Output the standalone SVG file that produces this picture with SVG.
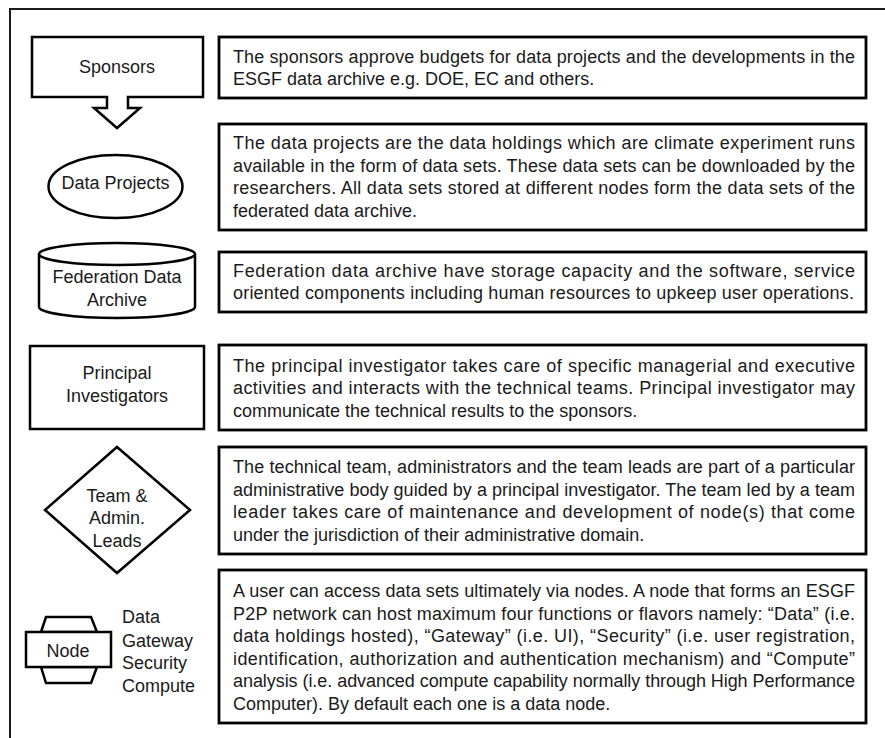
<svg xmlns="http://www.w3.org/2000/svg" width="885" height="738" viewBox="0 0 885 738">
<style>
  .shape { fill: #ffffff; stroke: #000000; stroke-width: 2.5; stroke-linejoin: miter; }
  .box { fill: #ffffff; stroke: #000000; stroke-width: 2.8; }
  .frame { fill: none; stroke: #1a1a1a; stroke-width: 2; }
  .lbl { font-family: "Liberation Sans", Arial, sans-serif; font-size: 18px; fill: #1a1a1a; text-anchor: middle; }
  .side { font-family: "Liberation Sans", Arial, sans-serif; font-size: 18px; fill: #1a1a1a; }
  .txt { font-family: "Liberation Sans", Arial, sans-serif; font-size: 18px; fill: #1a1a1a; }
</style>
<rect x="0" y="0" width="885" height="738" fill="#ffffff"/>
<path class="frame" d="M10,738 V9 H885"/>

<g id="connectors">
  <!-- the Sponsors arrow is part of the Sponsors callout shape -->
</g>

<g id="sponsors">
  <path class="shape" d="M32,37 H203 V97 H128 V108 H140 L117,128 L94,108 H107 V97 H32 Z"/>
  <text class="lbl" x="117" y="73">Sponsors</text>
</g>
<g id="sponsors-desc">
  <rect class="box" x="219" y="37" width="647" height="61"/>
  <text class="txt" x="233" y="63" textLength="622" lengthAdjust="spacing">The sponsors approve budgets for data projects and the developments in the</text>
  <text class="txt" x="233" y="85">ESGF data archive e.g. DOE, EC and others.</text>
</g>

<g id="data-projects">
  <ellipse class="shape" cx="115.5" cy="186.5" rx="67" ry="31.5"/>
  <text class="lbl" x="115.5" y="189">Data Projects</text>
</g>
<g id="data-projects-desc">
  <rect class="box" x="219" y="124" width="647" height="106"/>
  <text class="txt" x="233" y="149" textLength="622" lengthAdjust="spacing">The data projects are the data holdings which are climate experiment runs</text>
  <text class="txt" x="233" y="171.5" textLength="622" lengthAdjust="spacing">available in the form of data sets. These data sets can be downloaded by the</text>
  <text class="txt" x="233" y="194" textLength="622" lengthAdjust="spacing">researchers. All data sets stored at different nodes form the data sets of the</text>
  <text class="txt" x="233" y="216.5">federated data archive.</text>
</g>

<g id="federation-archive">
  <path class="shape" d="M39,254 A78,11 0 0 1 195,254 V307 A78,11 0 0 1 39,307 Z"/>
  <path class="shape" fill="none" d="M39,254 A78,11 0 0 0 195,254"/>
  <text class="lbl" x="117" y="283">Federation Data</text>
  <text class="lbl" x="117" y="306">Archive</text>
</g>
<g id="federation-archive-desc">
  <rect class="box" x="219" y="252" width="647" height="60"/>
  <text class="txt" x="233" y="276.5" textLength="622" lengthAdjust="spacing">Federation data archive have storage capacity and the software, service</text>
  <text class="txt" x="233" y="299" textLength="621" lengthAdjust="spacing">oriented components including human resources to upkeep user operations.</text>
</g>

<g id="principal-investigators">
  <rect class="shape" x="30" y="346" width="174" height="83"/>
  <text class="lbl" x="117" y="379">Principal</text>
  <text class="lbl" x="117" y="402">Investigators</text>
</g>
<g id="principal-investigators-desc">
  <rect class="box" x="219" y="345" width="647" height="85"/>
  <text class="txt" x="233" y="371.5" textLength="622" lengthAdjust="spacing">The principal investigator takes care of specific managerial and executive</text>
  <text class="txt" x="233" y="394" textLength="622" lengthAdjust="spacing">activities and interacts with the technical teams. Principal investigator may</text>
  <text class="txt" x="233" y="416.5">communicate the technical results to the sponsors.</text>
</g>

<g id="team-admin-leads">
  <path class="shape" d="M117,447 L190,510 L117,573 L45,510 Z"/>
  <text class="lbl" x="117" y="502">Team &amp;</text>
  <text class="lbl" x="117" y="524">Admin.</text>
  <text class="lbl" x="117" y="547">Leads</text>
</g>
<g id="team-admin-leads-desc">
  <rect class="box" x="219" y="447" width="647" height="107"/>
  <text class="txt" x="233" y="473" textLength="622" lengthAdjust="spacing">The technical team, administrators and the team leads are part of a particular</text>
  <text class="txt" x="233" y="495.5" textLength="622" lengthAdjust="spacing">administrative body guided by a principal investigator. The team led by a team</text>
  <text class="txt" x="233" y="518" textLength="622" lengthAdjust="spacing">leader takes care of maintenance and development of node(s) that come</text>
  <text class="txt" x="233" y="540.5">under the jurisdiction of their administrative domain.</text>
</g>

<g id="node">
  <path class="shape" d="M41,632 L46,617 H91 L97,632 Z"/>
  <path class="shape" d="M41,667 L46,683 H91 L97,667 Z"/>
  <rect class="shape" x="26" y="632" width="85" height="35"/>
  <text class="lbl" x="68" y="657">Node</text>
  <text class="side" x="122" y="623">Data</text>
  <text class="side" x="122" y="647">Gateway</text>
  <text class="side" x="122" y="669">Security</text>
  <text class="side" x="122" y="692">Compute</text>
</g>
<g id="node-desc">
  <rect class="box" x="219" y="570" width="647" height="153"/>
  <text class="txt" x="233" y="597" textLength="622" lengthAdjust="spacing">A user can access data sets ultimately via nodes. A node that forms an ESGF</text>
  <text class="txt" x="233" y="619.5" textLength="622" lengthAdjust="spacing">P2P network can host maximum four functions or flavors namely: “Data” (i.e.</text>
  <text class="txt" x="233" y="642" textLength="622" lengthAdjust="spacing">data holdings hosted), “Gateway” (i.e. UI), “Security” (i.e. user registration,</text>
  <text class="txt" x="233" y="664.5" textLength="622" lengthAdjust="spacing">identification, authorization and authentication mechanism) and “Compute”</text>
  <text class="txt" x="233" y="687" textLength="622" lengthAdjust="spacing">analysis (i.e. advanced compute capability normally through High Performance</text>
  <text class="txt" x="233" y="709.5">Computer). By default each one is a data node.</text>
</g>
</svg>
